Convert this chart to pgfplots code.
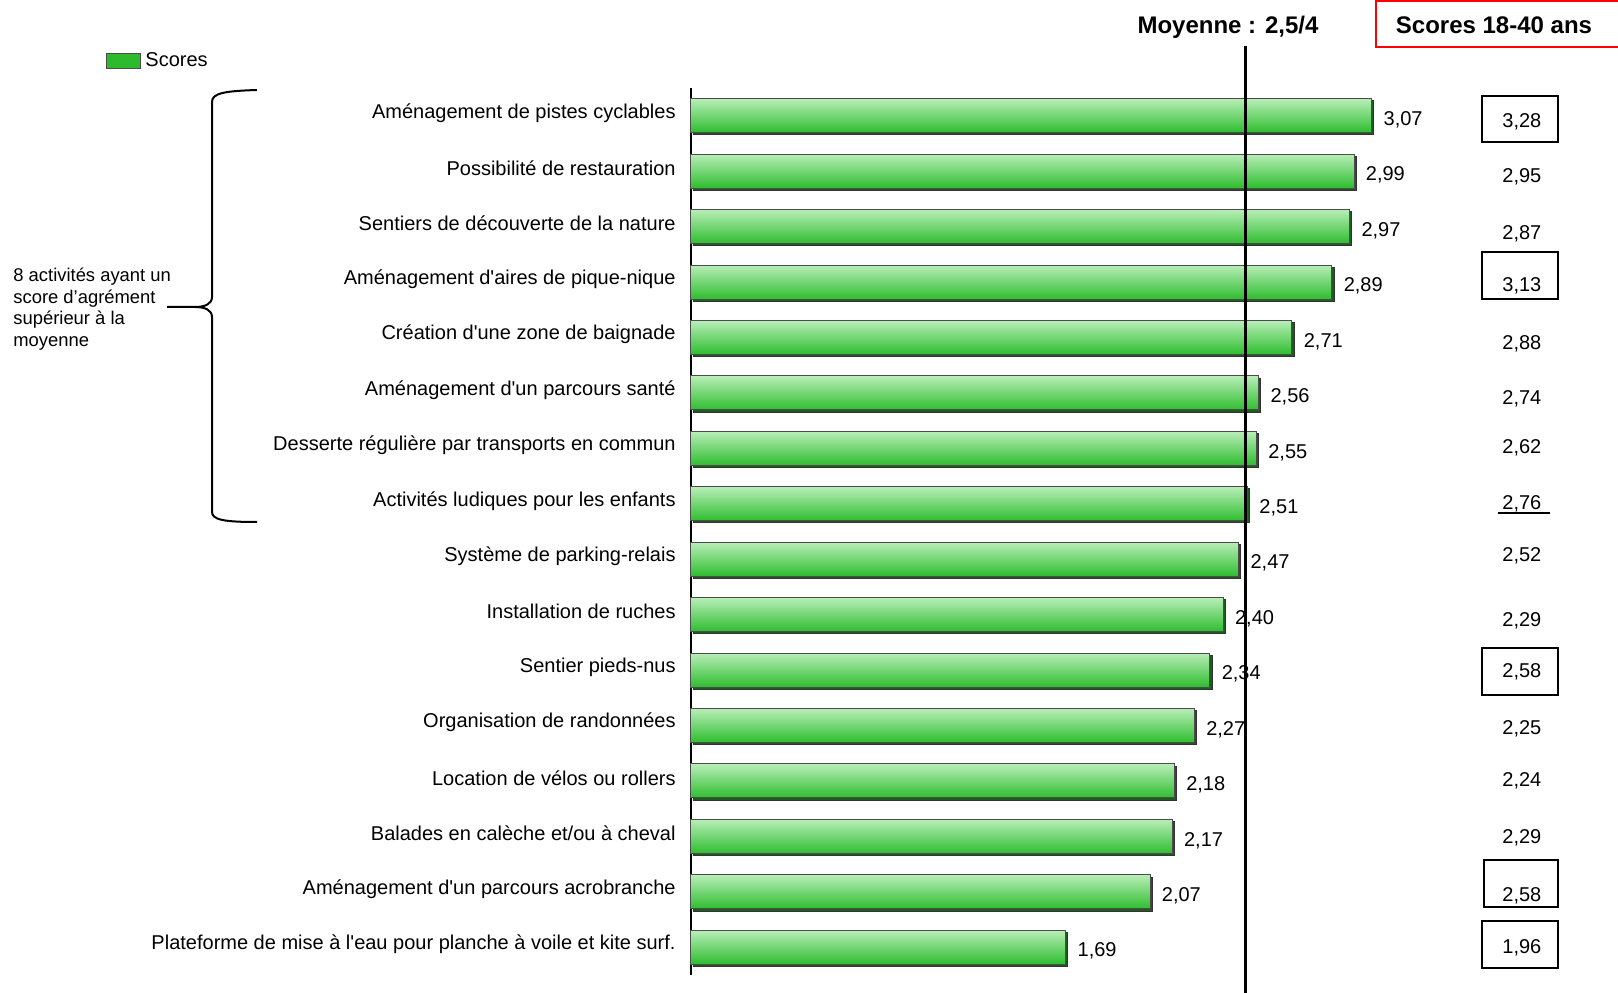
\documentclass[border=0pt]{standalone}
\usepackage{fontspec}
\setmainfont{Liberation Sans}
\usepackage{pgfplots}
\pgfplotsset{compat=1.18}
\usepackage{pgfplotstable}

\definecolor{bartop}{HTML}{B8EEB8}
\definecolor{barbot}{HTML}{2EBD2E}
\definecolor{barshadow}{HTML}{1C5C1C}
\definecolor{legfill}{HTML}{2DBB2D}
\newcommand\ap{\textquotesingle}

% pos = row, score = all ages, ylab = row of the 18-40 value, jeunes = 18-40 ans
\pgfplotstableread{
pos score ylab jeunes
1  3.07 1.074 3.28
2  2.99 2.065 2.95
3  2.97 3.094 2.87
4  2.89 4.029 3.13
5  2.71 5.074 2.88
6  2.56 6.065 2.74
7  2.55 6.946 2.62
8  2.51 7.973 2.76
9  2.47 8.908 2.52
10 2.40 10.067 2.29
11 2.34 11.002 2.58
12 2.27 12.029 2.25
13 2.18 12.964 2.24
14 2.17 13.993 2.29
15 2.07 15.040 2.58
16 1.69 15.975 1.96
}\scores

\begin{document}
\begin{tikzpicture}
\useasboundingbox (0,0) rectangle (809pt,496pt);
\begin{axis}[
  at={(345.5pt,8.5pt)}, anchor=south west,
  scale only axis, width=443.5pt, height=443.5pt,
  xmin=0, xmax=4, ymin=0.5, ymax=16.5, y dir=reverse,
  axis x line=none, axis y line*=left,
  y axis line style={line width=1pt},
  xtick=\empty, ytick={1,...,16},
  yticklabels={
    Aménagement de pistes cyclables,
    Possibilité de restauration,
    Sentiers de découverte de la nature,
    Aménagement d\ap aires de pique-nique,
    Création d\ap une zone de baignade,
    Aménagement d\ap un parcours santé,
    Desserte régulière par transports en commun,
    Activités ludiques pour les enfants,
    Système de parking-relais,
    Installation de ruches,
    Sentier pieds-nus,
    Organisation de randonnées,
    Location de vélos ou rollers,
    Balades en calèche et/ou à cheval,
    Aménagement d\ap un parcours acrobranche,
    Plateforme de mise à l\ap eau pour planche à voile et kite surf.},
  major tick length=0pt,
  yticklabel style={font=\fontsize{10}{12}\selectfont, inner sep=0pt, xshift=-7.5pt, yshift=1.5pt},
  clip=false,
  /pgf/number format/assume math mode=true,
  /pgf/number format/use comma,
  /pgf/number format/fixed,
  /pgf/number format/fixed zerofill,
  /pgf/number format/precision=2,
  legend style={draw=none, fill=none, inner sep=0pt,
    at={(axis description cs:-0.6595,1.0304)}, anchor=west,
    font=\fontsize{10}{12}\selectfont},
]
% one plot per bar so that each bar gets its own shading
\pgfplotsinvokeforeach{1,...,16}{
\addplot[xbar, bar width=17pt, bar shift=0pt, forget plot,
  draw=black!70, line width=0.5pt, top color=bartop, bottom color=barbot,
  preaction={top color=barshadow, bottom color=barshadow, draw=black!80, line width=0.5pt,
    transform canvas={xshift=1.1pt, yshift=-1.1pt}},
  restrict y to domain=#1:#1,
  nodes near coords, nodes near coords align=horizontal,
  every node near coord/.append style={text=black, font=\fontsize{10}{12}\selectfont,
    inner sep=0pt, xshift=5.7pt, yshift=-2pt}]
  table[x=score, y=pos] {\scores};
}

\addlegendimage{legend image code/.code={\draw[fill=legfill, draw=black!70, line width=0.5pt] (0pt,-3.9pt) rectangle (17pt,3.9pt);}}
\addlegendentry{Scores}

% column of 18-40 year scores
\addplot[only marks, mark=*, mark size=0pt, mark options={draw=none, fill=none}, forget plot,
  nodes near coords, point meta=explicit,
  every node near coord/.append style={anchor=center, text=black,
    font=\fontsize{10}{12}\selectfont, yshift=-1pt}]
  table[x expr=3.747, y=ylab, meta=jeunes] {\scores};

% mean line
\draw[line width=1.3pt] (axis cs:2.5,-0.26) -- (axis cs:2.5,16.9);
\end{axis}

\begin{scope}[shift={(0pt,496pt)}, x=0.5pt, y=-0.5pt]
  \node[font=\fontsize{12}{14}\selectfont\bfseries] at (1228,27) {Moyenne : 2,5/4};
  \draw[red, line width=1pt] (1376,1) rectangle (1625,47);
  \node[font=\fontsize{12}{14}\selectfont\bfseries] at (1494,25) {Scores 18-40 ans};
  % boxes in the right column
  \draw[line width=1.2pt] (1482,96) rectangle (1558,142);
  \draw[line width=1.2pt] (1482,252) rectangle (1558,299);
  \draw[line width=1.2pt] (1482,648) rectangle (1558,695);
  \draw[line width=1.2pt] (1484,860) rectangle (1558,907);
  \draw[line width=1.2pt] (1482,921) rectangle (1558,968);
  \draw[line width=1.3pt] (1498,513) -- (1550,513);
  % brace
  \draw[line width=1pt] (257,90) .. controls (225,91) and (212,93) .. (212,102) -- (212,297)
     .. controls (212,304) and (205,307) .. (195,307) -- (167,307);
  \draw[line width=1pt] (195,307) .. controls (205,307) and (212,310) .. (212,317) -- (212,512)
     .. controls (212,520) and (225,522) .. (257,522);
  \begin{scope}[every node/.style={anchor=base west, inner sep=0pt, font=\fontsize{9.2}{11}\selectfont}]
    \node at (13,282) {8 activités ayant un};
    \node at (13,303.5) {score d’agrément};
    \node at (13,325) {supérieur à la};
    \node at (13,347) {moyenne};
  \end{scope}
\end{scope}
\end{tikzpicture}
\end{document}
